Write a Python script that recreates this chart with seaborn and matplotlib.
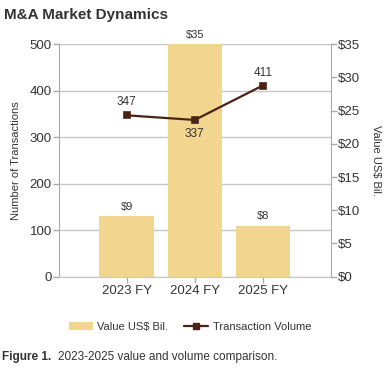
import numpy as np
import pandas as pd
import seaborn as sns
import matplotlib.pyplot as plt
from matplotlib.patches import Patch
from matplotlib.lines import Line2D

years = ["2023 FY", "2024 FY", "2025 FY"]
value_bil = [9.1, 35.0, 7.7]
value_labels = ["$9", "$35", "$8"]
volumes = [347, 337, 411]
left_ticks = [0, 100, 200, 300, 400, 500]
right_ticks = [0, 5, 10, 15, 20, 25, 30, 35]

bar_color = "#F2D58F"
line_color = "#4A2317"
grid_color = "#C6C6C6"
spine_color = "#AAAAAA"
text_color = "#333333"

sns.set_style("white")
plt.rcParams['font.family'] = ['Liberation Sans', 'DejaVu Sans']

df = pd.DataFrame({"year": years, "value": value_bil, "volume": volumes})

fig = plt.figure(figsize=(3.9, 3.8), dpi=100)
ax = fig.add_axes([0.1505, 0.2718, 0.6975, 0.612])
ax2 = ax.twinx()
ax3 = ax.twinx()

# valor en barras (eje derecho)
sns.barplot(data=df, x="year", y="value", ax=ax2, color=bar_color, width=0.8,
            saturation=1, edgecolor="none")
ax2.set_ylim(0, 35)
ax2.set_yticks(right_ticks, labels=["$" + str(t) for t in right_ticks])
ax2.set_ylabel("Value US$ Bil.", rotation=270, labelpad=15, fontsize=8, color=text_color)
for i, (v, lab) in enumerate(zip(value_bil, value_labels)):
    ax2.annotate(lab, (i, v), xytext=(0, 3), textcoords="offset points",
                 ha="center", va="bottom", fontsize=8, color=text_color)

# volumen en linea (eje izquierdo)
sns.pointplot(data=df, x="year", y="volume", ax=ax3, color=line_color, markers="s",
              markersize=5, linewidth=1.6, errorbar=None)
ax3.set_ylim(0, 500)
ax3.set_yticks([])
ax3.set_ylabel("")
for i, v in enumerate(volumes):
    if i == 1:
        ax3.annotate(str(v), (i, v), xytext=(0, -6), textcoords="offset points",
                     ha="center", va="top", fontsize=8.5, color=text_color)
    else:
        ax3.annotate(str(v), (i, v), xytext=(0, 5), textcoords="offset points",
                     ha="center", va="bottom", fontsize=8.5, color=text_color)

ax.set_ylim(0, 500)
ax.set_yticks(left_ticks)
ax.yaxis.grid(True, color=grid_color, linewidth=1)
ax.set_ylabel("Number of Transactions", fontsize=8, color=text_color, labelpad=6)
ax.set_xlim(-1, 3)
ax.set_xticks(range(len(years)), labels=years)

for a in (ax, ax2, ax3):
    for s in a.spines.values():
        s.set_visible(False)
ax.spines["left"].set_visible(True)
ax.spines["left"].set_color(spine_color)
ax.spines["bottom"].set_visible(True)
ax.spines["bottom"].set_color(grid_color)
ax2.spines["right"].set_visible(True)
ax2.spines["right"].set_color(spine_color)

ax.tick_params(axis="y", length=4, width=1, color=spine_color, labelsize=9.5,
               labelcolor=text_color, pad=1, left=True)
ax.tick_params(axis="x", length=4, width=1, color=spine_color, labelsize=9.5,
               labelcolor=text_color, pad=2, bottom=True)
ax2.tick_params(axis="y", length=4, width=1, color=spine_color, labelsize=9.5,
                labelcolor=text_color, pad=1, right=True)
ax2.set_xlabel("")
ax3.set_xlabel("")

fig.text(0.010, 0.96, "M&A Market Dynamics", fontsize=11, fontweight="bold",
         color=text_color, ha="left", va="center")

handles = [Patch(facecolor=bar_color, edgecolor="none", label="Value US$ Bil."),
           Line2D([0], [0], color=line_color, marker="s", markersize=5, linewidth=1.6,
                  label="Transaction Volume")]
fig.legend(handles=handles, loc="center", bbox_to_anchor=(0.487, 0.14), ncol=2,
           frameon=False, fontsize=8, labelcolor=text_color, handlelength=2.2,
           columnspacing=1.4, handletextpad=0.4)

fig.text(0.005, 0.0605, "Figure 1.", fontsize=8.5, fontweight="bold", color=text_color,
         ha="left", va="center")
fig.text(0.149, 0.0605, "2023-2025 value and volume comparison.", fontsize=8.5,
         color=text_color, ha="left", va="center")

fig.savefig("out.png", dpi=100)
